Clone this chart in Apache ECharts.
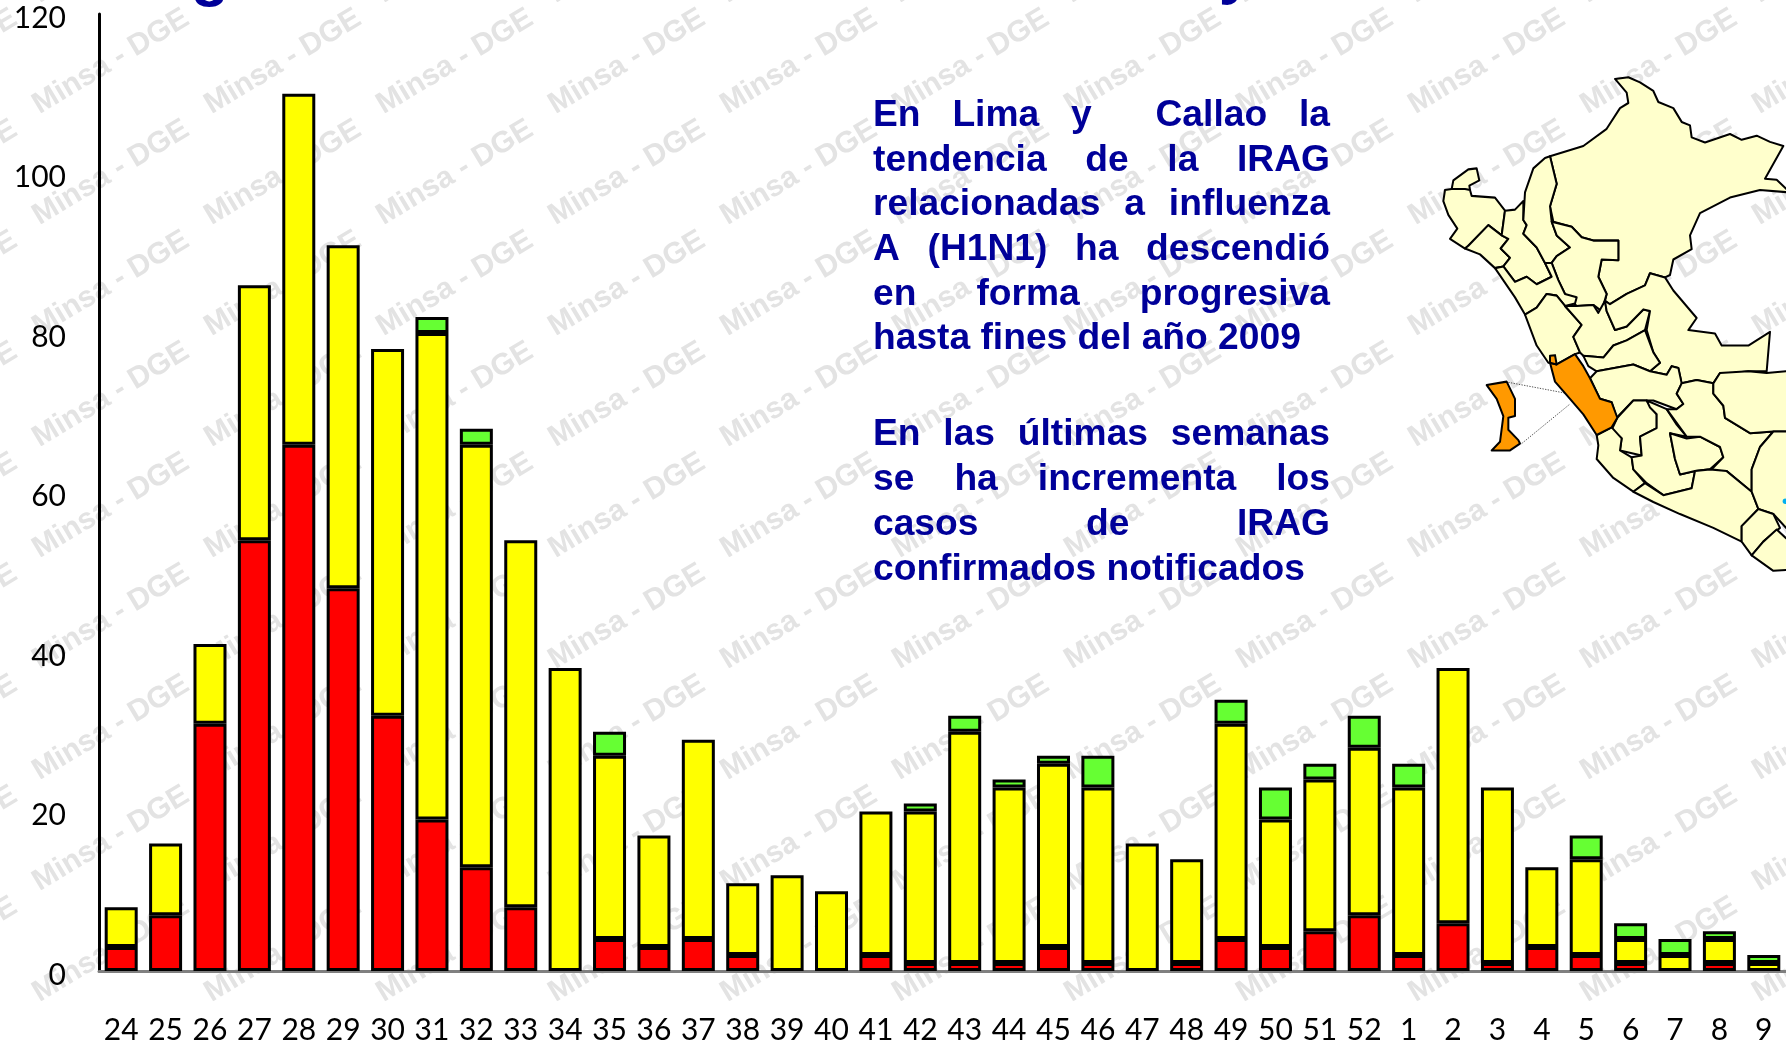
<!DOCTYPE html>
<html>
<head>
<meta charset="utf-8">
<title>IRAG Lima y Callao</title>
<style>
  html, body { margin: 0; padding: 0; background: #fff; }
  #chart { width: 1786px; height: 1048px; }
</style>
<script src="https://cdn.jsdelivr.net/npm/echarts@6/dist/echarts.min.js"></script>
</head>
<body>
<div id="chart"></div>
<script>
let weeks = ['24','25','26','27','28','29','30','31','32','33','34','35','36','37','38','39','40','41','42','43','44','45','46','47','48','49','50','51','52','1','2','3','4','5','6','7','8','9'];
let rojo     = [3,7,31,54,66,48,32,19,13,8,0,4,3,4,2,0,0,2,1,1,1,3,1,0,1,4,3,5,7,2,6,1,3,2,1,0,1,0];
let amarillo = [5,9,10,32,44,43,46,61,53,46,38,23,14,25,9,12,10,18,19,29,22,23,22,16,13,27,16,19,21,21,32,22,10,12,3,2,3,1];
let verde    = [0,0,0,0,0,0,0,2,2,0,0,3,0,0,0,0,0,0,1,2,1,1,4,0,0,3,4,2,4,3,0,0,0,3,2,2,1,1];

let textLines = [
  ['En Lima y  Callao la', 116, true],
  ['tendencia de la IRAG', 161, true],
  ['relacionadas a influenza', 205, true],
  ['A (H1N1) ha descendió', 250, true],
  ['en forma progresiva', 295, true],
  ['hasta fines del año 2009', 339, false],
  ['En las últimas semanas', 435, true],
  ['se ha incrementa los', 480, true],
  ['casos de IRAG', 525, true],
  ['confirmados notificados', 570, false]
];

// mapa: contornos calcados de la figura, en pixeles del recorte
let mapaCrema = [
  [510,280,610,250,680,200,720,140,745,125,740,95,705,55,745,50,780,65,820,90,835,122,880,140,905,180,930,190,935,225,975,240,1050,215,1085,232,1130,220,1170,238,1210,250,1155,345,1190,348,1230,385,1140,378,1050,400,960,445,930,510,935,550,880,580,870,625,855,632,810,620,795,655,740,680,690,710,675,700,680,680,655,630,665,580,715,582,715,525,640,525,605,515,575,485,520,470,510,425,530,360],
  [215,375,220,350,265,318,290,315,298,350,268,365,270,378],
  [195,378,215,375,255,375,270,378,275,395,345,400,375,438,365,510,325,480,265,540,255,548,210,520,232,490,205,450,190,410],
  [255,548,265,540,325,480,365,510,385,520,362,548,390,575,370,600,345,605,300,565],
  [375,438,405,435,430,410,430,465,440,480,430,505,470,545,495,590,515,630,470,652,440,630,405,645,370,600,390,575,362,548,385,520,365,510],
  [510,280,495,285,460,315,435,385,430,465,440,480,430,505,470,545,495,590,515,590,530,570,570,545,530,510,515,470,510,425,530,360],
  [515,470,575,485,605,515,640,525,715,525,715,582,665,580,655,630,680,680,665,730,640,712,590,715,555,680,535,640,515,590,530,570,570,545,530,510],
  [345,605,370,600,405,645,440,630,470,652,515,630,495,590,515,590,535,640,555,680,590,690,585,708,555,715,530,685,500,680,470,720,435,740,405,690],
  [435,740,470,720,500,680,530,685,555,715,605,770,580,805,600,850,585,855,530,885,505,880,470,830],
  [555,715,590,715,640,712,655,735,675,700,680,730,705,785,740,775,790,725,810,730,795,785,740,815,700,830,670,865,610,860,600,850,580,805,605,770],
  [675,700,690,710,740,680,795,655,810,620,855,632,880,670,950,750,925,785,1005,795,1025,830,1105,830,1170,790,1160,905,1105,905,1060,910,1020,910,1000,940,950,930,905,940,895,895,875,890,860,915,810,905,840,880,820,850,800,785,810,730,790,725,740,775,705,785,680,730],
  [610,860,670,865,700,830,740,815,795,785,820,850,840,880,810,905,760,885,650,905,625,890],
  [650,905,760,885,810,905,860,915,875,890,895,895,905,940,890,970,910,1000,890,1015,820,990,760,990,710,1040,695,995,660,985,630,925],
  [712,1040,760,990,800,990,830,1030,830,1070,780,1095,785,1150,720,1135,725,1100,695,1075],
  [650,1090,695,1068,725,1100,720,1135,755,1155,760,1190,795,1230,760,1255,700,1215,650,1160,655,1120],
  [800,990,860,1015,890,1060,920,1095,870,1085,885,1160,900,1205,945,1195,935,1245,850,1265,800,1230,760,1190,755,1155,785,1150,780,1095,830,1070,830,1030,810,1010],
  [870,1085,920,1100,960,1095,1020,1125,1030,1155,990,1190,945,1195,900,1205,885,1160],
  [860,1015,890,1015,910,1000,890,970,905,940,950,930,1000,940,1000,970,1030,1005,1035,1040,1110,1085,1180,1080,1140,1125,1115,1190,1115,1255,1040,1195,990,1195,1030,1155,1020,1125,960,1095,920,1095],
  [1020,910,1105,905,1160,910,1218,905,1300,900,1300,1080,1180,1080,1110,1085,1035,1040,1030,1005,1000,970,1000,940],
  [760,1255,795,1230,850,1265,935,1245,945,1195,990,1190,1040,1195,1115,1255,1135,1305,1085,1355,1085,1400,1000,1360,900,1320,820,1285],
  [1180,1080,1300,1080,1300,1400,1218,1360,1180,1320,1135,1305,1115,1255,1115,1190,1140,1125],
  [1085,1355,1135,1305,1180,1320,1200,1360,1150,1400,1115,1440,1085,1400],
  [1115,1440,1150,1400,1190,1365,1218,1390,1300,1400,1260,1480,1180,1485]
];
let mapaNaranja = [
  [510,880,530,885,585,855,610,890,630,925,660,985,695,995,712,1040,695,1068,650,1090,610,1030,570,985,525,935],
  [510,860,525,858,530,885,510,880],
  [320,945,380,935,405,985,405,1035,385,1040,385,1075,415,1105,420,1115,390,1135,335,1135,360,1110,370,1035,350,985]
];
let mapaGuias = [[385,937,565,970], [425,1115,570,1000]];

function toPoints(flat) {
  let pts = [];
  for (let i = 0; i < flat.length; i += 2) {
    pts.push([flat[i], flat[i + 1]]);
  }
  return pts;
}

let graphics = [];

// marca de agua de fondo
let angle = 31 * Math.PI / 180;
for (let row = 0; row < 10; row++) {
  for (let col = -1; col < 11; col++) {
    graphics.push({
      type: 'text', z: 0,
      x: 43 + col * 172,
      y: 120 + (row - 1) * 111,
      rotation: angle,
      style: {text: 'Minsa - DGE', font: 'bold 30px "Liberation Sans"', fill: '#e3e3e3', align: 'left', verticalAlign: 'bottom'}
    });
  }
}
// los mosaicos de la marca cortan la M por abajo
for (let row = 0; row < 10; row++) {
  graphics.push({
    type: 'rect', z: 0,
    shape: {x: 0, y: 2 + row * 111, width: 1786, height: 4},
    style: {fill: '#fff'}
  });
}

// titulo cortado por el borde superior: solo asoman las colas
graphics.push({type: 'text', z: 5, x: 210, y: 8, style: {text: 'g', font: 'bold 62px "Liberation Sans"', fill: '#000099', align: 'center', verticalAlign: 'bottom'}});
graphics.push({type: 'text', z: 5, x: 1236, y: 6, style: {text: 'y', font: 'bold 62px "Liberation Sans"', fill: '#000099', align: 'center', verticalAlign: 'bottom'}});

// texto justificado, palabra por palabra
let textFont = 'bold 37.2px "Liberation Sans"';
let ctx = document.createElement('canvas').getContext('2d');
ctx.font = textFont;
let textLeft = 873, textRight = 1330;
textLines.forEach(function (line) {
  let words = line[0].split(' ');
  let sum = 0;
  words.forEach(function (w) { sum += ctx.measureText(w).width; });
  let gap = line[2] ? (textRight - textLeft - sum) / (words.length - 1) : ctx.measureText(' ').width;
  let x = textLeft;
  words.forEach(function (w) {
    if (w) {
      graphics.push({type: 'text', z: 6, x: x, y: line[1], style: {text: w, font: textFont, fill: '#000099', align: 'left', verticalAlign: 'middle'}});
    }
    x += ctx.measureText(w).width + gap;
  });
});

let mapChildren = [];
mapaGuias.forEach(function (g) {
  mapChildren.push({type: 'polyline', z: 5, shape: {points: toPoints(g)}, style: {stroke: '#333', lineWidth: 2.5, lineDash: [4, 4], fill: null}});
});
mapaCrema.forEach(function (p) {
  mapChildren.push({type: 'polygon', z: 5, shape: {points: toPoints(p)}, style: {fill: '#ffffcc', stroke: '#000', lineWidth: 6, lineJoin: 'round'}});
});
mapaNaranja.forEach(function (p) {
  mapChildren.push({type: 'polygon', z: 5, shape: {points: toPoints(p)}, style: {fill: '#ff9900', stroke: '#000', lineWidth: 6, lineJoin: 'round'}});
});
mapChildren.push({type: 'circle', z: 5, shape: {cx: 1216, cy: 1283, r: 8}, style: {fill: '#00b0f0'}});
graphics.push({type: 'group', z: 5, x: 1380, y: 60, scaleX: 1 / 3, scaleY: 0.344, children: mapChildren});

let barStyle = function (color) {
  return {color: color, borderColor: '#000', borderWidth: 3, borderType: 'solid'};
};

let option = {
  backgroundColor: '#fff',
  animation: false,
  graphic: graphics,
  grid: {left: 99, right: -5, top: 14, bottom: 77},
  xAxis: {
    type: 'category',
    data: weeks,
    z: 1,
    axisLine: {lineStyle: {color: '#808080', width: 3}},
    axisTick: {show: false},
    axisLabel: {interval: 0, margin: 44, color: '#000', fontFamily: 'Lato', fontSize: 30}
  },
  yAxis: {
    type: 'value',
    min: 0,
    max: 120,
    interval: 20,
    z: 1,
    axisLine: {show: true, lineStyle: {color: '#000', width: 3}},
    axisTick: {show: false},
    splitLine: {show: false},
    axisLabel: {margin: 33, verticalAlign: 'top', lineHeight: 8, color: '#000', fontFamily: 'Lato', fontSize: 30}
  },
  series: [
    {name: 'rojo', type: 'bar', stack: 'irag', barWidth: 33, itemStyle: barStyle('#ff0000'), data: rojo.map(function (v) { return v || null; })},
    {name: 'amarillo', type: 'bar', stack: 'irag', itemStyle: barStyle('#ffff00'), data: amarillo},
    {name: 'verde', type: 'bar', stack: 'irag', itemStyle: barStyle('#66ff33'), data: verde.map(function (v) { return v || null; })}
  ]
};
let myChart = echarts.init(document.getElementById('chart'));
myChart.setOption(option);
</script>
</body>
</html>
